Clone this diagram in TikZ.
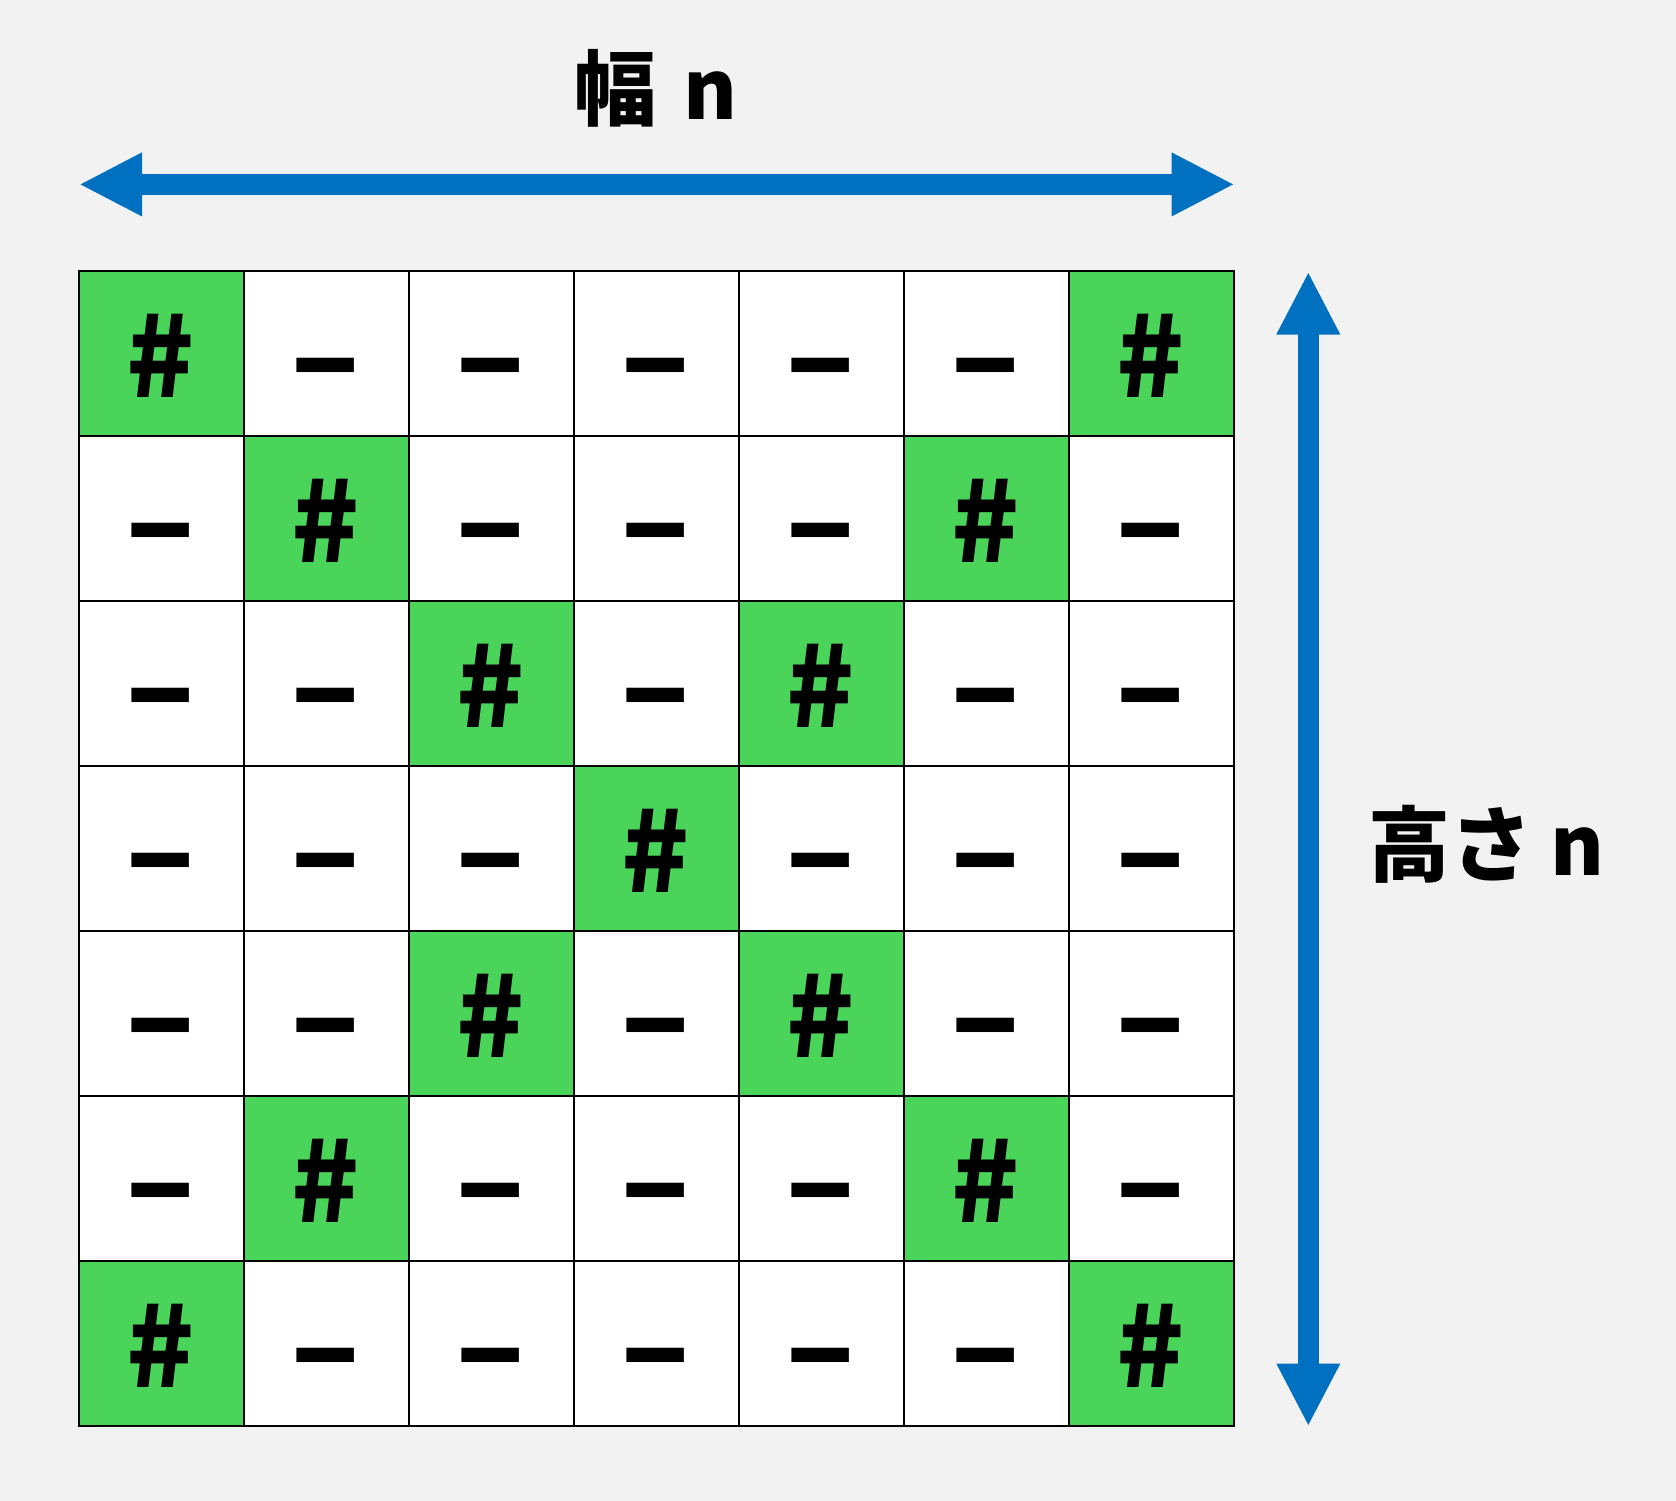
\documentclass[tikz,border=0pt]{standalone}
\usepackage{fontspec}
\setmainfont{Noto Sans CJK JP}
\usetikzlibrary{arrows.meta}
\definecolor{bg}{HTML}{F2F2F2}
\definecolor{grn}{HTML}{4AD45A}
\definecolor{arrowblue}{HTML}{0070C0}
\begin{document}
\begin{tikzpicture}[x=1pt,y=-1pt,
  cell/.style={draw=black,line width=2pt,minimum size=165pt,inner sep=0pt,fill=white},
  greencell/.style={cell,fill=grn},
  hashtxt/.style={inner sep=0pt,font=\fontsize{112}{112}\selectfont\bfseries},
  dashtxt/.style={inner sep=0pt,font=\fontsize{128}{128}\selectfont\bfseries},
  dimarrow/.style={draw=arrowblue,line width=20.5pt,
    {Triangle[length=63pt,width=59pt,fill=arrowblue]}-{Triangle[length=63pt,width=59pt,fill=arrowblue]}},
  dimlabel/.style={inner sep=0pt,font=\fontsize{82}{90}\selectfont\bfseries}
]
\fill[bg] (0,0) rectangle (1676,1501);
\useasboundingbox (0,0) rectangle (1676,1501);
\foreach \r in {0,...,6}{
  \foreach \c in {0,...,6}{
    \pgfmathtruncatemacro{\isg}{(\c==\r) || (\c==6-\r) ? 1 : 0}
    \ifnum\isg=1
      \node[greencell] (c-\r-\c) at ({78.5+165*\c+82.5},{271+165*\r+82.5}) {};
      \node[hashtxt] (t-\r-\c) at ([yshift=-2pt]c-\r-\c) {\#};
    \else
      \node[cell] (c-\r-\c) at ({78.5+165*\c+82.5},{271+165*\r+82.5}) {};
      \node[dashtxt] (t-\r-\c) at ([yshift=-27pt]c-\r-\c) {–};
    \fi
  }
}
\coordinate (hl) at (79,184.4);
\coordinate (hr) at (1234.6,184.4);
\coordinate (vt) at (1308.3,271.5);
\coordinate (vb) at (1308.3,1426.5);
\draw[dimarrow] (hl) -- (hr);
\draw[dimarrow] (vt) -- (vb);
\node[dimlabel] (wlabel) at (656,88) {幅\hspace{0.33em}n};
\node[dimlabel] (hlabel) at (1486,844) {高さ\hspace{0.22em}n};
\end{tikzpicture}
\end{document}
